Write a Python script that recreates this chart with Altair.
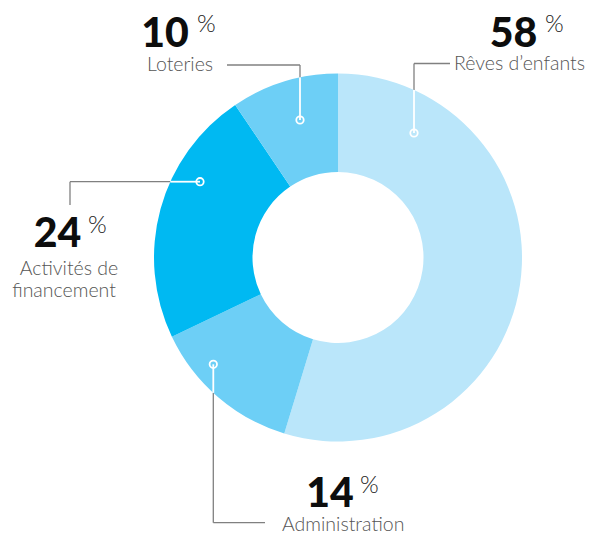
import math
import altair as alt
import pandas as pd

# ---- data ----
categories = ["Rêves d’enfants", "Administration", "Activités de financement", "Loteries"]
values = [58, 14, 24, 10]
colors = ["#BAE6FA", "#6DCFF6", "#00B9F2", "#6DCFF6"]

# ---- layout (page pixels) ----
W, H = 580, 526
OFF = 8
CX, CY = 338, 257.5
R_OUT, R_IN = 184, 85.5

# leader lines: marker, elbow, end ; direction of first leg
leaders = [
    dict(cat="Rêves d’enfants", m=(414, 133), e=(414, 63.5), t=(450, 63.5), leg="v"),
    dict(cat="Administration", m=(213.3, 364.3), e=(213.3, 522.7), t=(265, 522.7), leg="v"),
    dict(cat="Activités de financement", m=(200, 181.7), e=(70, 181.7), t=(70, 205), leg="h"),
    dict(cat="Loteries", m=(300, 120), e=(300, 65), t=(227, 65), leg="v"),
]

numbers = [  # value text: center x, baseline y ; percent: left x, baseline y
    dict(val=values[0], nx=513.5, ny=46.7, px=545, py=31.5),
    dict(val=values[1], nx=330, ny=506.7, px=360, py=493.3),
    dict(val=values[2], nx=57.5, ny=246.7, px=88, py=233),
    dict(val=values[3], nx=165, ny=46.7, px=197, py=31.5),
]

labels_left = [("Loteries", 147, 71), ("Administration", 282, 531)]
labels_right = [("Rêves d’enfants", 585, 70)]
labels_center = [("Activités de", 69, 275), ("financement", 64, 297)]

FONT = "Lato, Open Sans, sans-serif"
NUM_FONT = "Lato, sans-serif"

xs = alt.Scale(domain=[OFF, OFF + W], range=[0, W])
ys = alt.Scale(domain=[OFF, OFF + H], range=[0, H])


def edge(m, e, leg):
    if leg == "v":
        dx = m[0] - CX
        h = math.sqrt(R_OUT ** 2 - dx ** 2)
        y = CY - h if e[1] < m[1] else CY + h
        return (m[0], y)
    dy = m[1] - CY
    w = math.sqrt(R_OUT ** 2 - dy ** 2)
    x = CX - w if e[0] < m[0] else CX + w
    return (x, m[1])


gray_rows, white_rows, marker_rows = [], [], []
for L in leaders:
    p = edge(L["m"], L["e"], L["leg"])
    gray_rows.append(dict(x=p[0], y=p[1], x2=L["e"][0], y2=L["e"][1]))
    gray_rows.append(dict(x=L["e"][0], y=L["e"][1], x2=L["t"][0], y2=L["t"][1]))
    white_rows.append(dict(x=L["m"][0], y=L["m"][1], x2=p[0], y2=p[1]))
    marker_rows.append(dict(x=L["m"][0], y=L["m"][1]))

pie_df = pd.DataFrame({"cat": categories, "value": values, "idx": list(range(len(values)))})

arc = alt.Chart(pie_df).mark_arc(outerRadius=R_OUT, innerRadius=R_IN).encode(
    theta=alt.Theta("value:Q", stack=True),
    order=alt.Order("idx:Q"),
    color=alt.Color("cat:N", scale=alt.Scale(domain=categories, range=colors), legend=None),
    x=alt.value(CX - OFF),
    y=alt.value(CY - OFF),
)


def rules(rows, color, width):
    return alt.Chart(pd.DataFrame(rows)).mark_rule(color=color, strokeWidth=width).encode(
        x=alt.X("x:Q", scale=xs, axis=None),
        y=alt.Y("y:Q", scale=ys, axis=None),
        x2="x2:Q",
        y2="y2:Q",
    )


gray = rules(gray_rows, "#808080", 1.3)
white = rules(white_rows, "#ffffff", 1.8)

markers = alt.Chart(pd.DataFrame(marker_rows)).mark_point(
    shape="circle", filled=False, stroke="#ffffff", strokeWidth=1.8, size=55, opacity=1
).encode(x=alt.X("x:Q", scale=xs, axis=None), y=alt.Y("y:Q", scale=ys, axis=None))

num_df = pd.DataFrame(numbers)
num_df["t"] = num_df["val"].astype(str)
num_text = alt.Chart(num_df).mark_text(
    font=NUM_FONT, fontSize=41, fontWeight=900, color="#0d0d0d", align="center", baseline="alphabetic"
).encode(x=alt.X("nx:Q", scale=xs, axis=None), y=alt.Y("ny:Q", scale=ys, axis=None), text="t:N")

pct_text = alt.Chart(num_df).mark_text(
    font=FONT, fontSize=24, fontWeight=300, color="#1a1a1a", align="left", baseline="alphabetic", text="%"
).encode(x=alt.X("px:Q", scale=xs, axis=None), y=alt.Y("py:Q", scale=ys, axis=None))


def label_layer(rows, align):
    df = pd.DataFrame(rows, columns=["t", "x", "y"])
    return alt.Chart(df).mark_text(
        font=FONT, fontSize=19.5, fontWeight=300, color="#555555", align=align, baseline="alphabetic"
    ).encode(x=alt.X("x:Q", scale=xs, axis=None), y=alt.Y("y:Q", scale=ys, axis=None), text="t:N")


chart = alt.layer(
    gray,
    arc,
    white,
    markers,
    num_text,
    pct_text,
    label_layer(labels_left, "left"),
    label_layer(labels_right, "right"),
    label_layer(labels_center, "center"),
).properties(
    width=W, height=H, padding=0, autosize=alt.AutoSizeParams(type="none")
).configure_view(stroke=None)

chart.save("out.html", embed_options={"renderer": "svg", "actions": False})
